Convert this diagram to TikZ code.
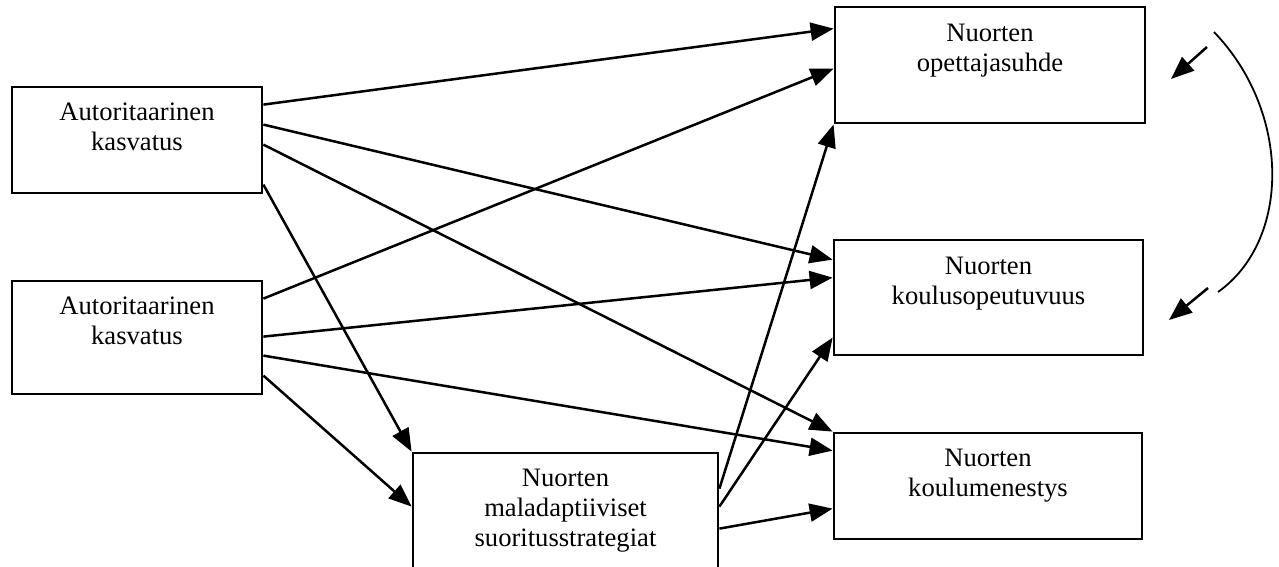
\documentclass[tikz,border=0pt]{standalone}
\usepackage{fontspec}
\setmainfont{Liberation Serif}
\usetikzlibrary{arrows.meta}
\tikzset{
  box/.style={draw=black, line width=2.8pt, rectangle, inner sep=0pt, fill=none},
  lbl/.style={align=center, inner sep=0pt, font=\fontsize{26.6pt}{30pt}\selectfont, anchor=base},
  conn/.style={line width=2.5pt, -{Triangle[length=23pt,width=18pt]}},
  arcline/.style={line width=1.8pt},
}
\begin{document}
\begin{tikzpicture}[x=1pt,y=-1pt]
\useasboundingbox[fill=white] (0,0) rectangle (1279,566);
% boxes
\node[box, minimum width=250pt, minimum height=106pt] (a1) at (137,140) {};
\node[box, minimum width=250pt, minimum height=113pt] (a2) at (137,337.5) {};
\node[box, minimum width=305pt, minimum height=125pt] (m) at (565.5,515.5) {};
\node[box, minimum width=310pt, minimum height=116pt] (o) at (990,65) {};
\node[box, minimum width=309pt, minimum height=115pt] (k) at (988.5,297.5) {};
\node[box, minimum width=308pt, minimum height=106pt] (l) at (988,486) {};
% labels (base anchor = baseline of last line)
\node[lbl] (a1t) at ([yshift=-65pt]a1.north) {Autoritaarinen\\kasvatus};
\node[lbl] (a2t) at ([yshift=-65pt]a2.north) {Autoritaarinen\\kasvatus};
\node[lbl] (mt) at ([yshift=-95pt]m.north) {Nuorten\\maladaptiiviset\\suoritusstrategiat};
\node[lbl] (ot) at ([yshift=-66pt]o.north) {Nuorten\\opettajasuhde};
\node[lbl] (kt) at ([yshift=-66pt]k.north) {Nuorten\\koulusopeutuvuus};
\node[lbl] (lt) at ([yshift=-65pt]l.north) {Nuorten\\koulumenestys};
% connectors from A1
\draw[conn] ([yshift=-19pt]a1.north east) -- ([yshift=-23pt]o.north west);
\draw[conn] ([yshift=-39pt]a1.north east) -- ([yshift=-21pt]k.north west);
\draw[conn] ([yshift=-59pt]a1.north east) -- (l.north west);
\draw[conn] ([yshift=-99pt]a1.north east) -- (m.north west);
% connectors from A2
\draw[conn] ([yshift=-19pt]a2.north east) -- ([yshift=-63pt]o.north west);
\draw[conn] ([yshift=-57pt]a2.north east) -- ([yshift=-39pt]k.north west);
\draw[conn] ([yshift=-76pt]a2.north east) -- ([yshift=-19pt]l.north west);
\draw[conn] ([yshift=-96pt]a2.north east) -- ([yshift=-55pt]m.north west);
% connectors from M
\draw[conn] ([yshift=-37pt]m.north east) -- (o.south west);
\draw[conn] ([yshift=-55pt]m.north east) -- ([yshift=-99pt]k.north west);
\draw[conn] ([yshift=-77pt]m.north east) -- ([yshift=-77pt]l.north west);
% correlation arc
\coordinate (arcS) at (1214,32);
\coordinate (arcE) at (1218,292);
\draw[arcline] (arcS) .. controls (1291,112) and (1291,240) .. (arcE);
\coordinate (p1) at (1207,47);
\coordinate (q1) at (1171,79);
\coordinate (p2) at (1208,288);
\coordinate (q2) at (1169,320);
\draw[conn] (p1) -- (q1);
\draw[conn] (p2) -- (q2);
\end{tikzpicture}
\end{document}
